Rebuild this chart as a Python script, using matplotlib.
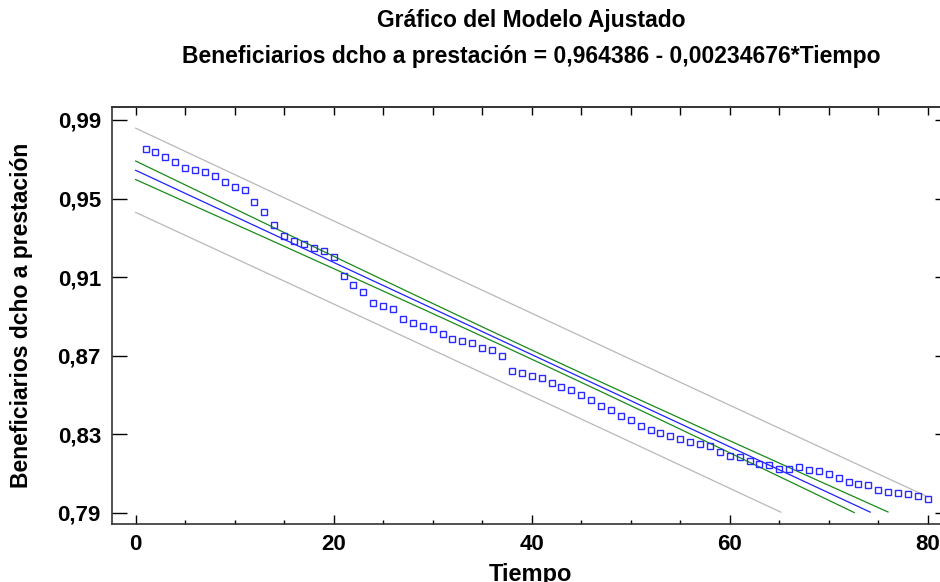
import numpy as np
import matplotlib.pyplot as plt

plt.rcParams['font.family'] = ['Liberation Sans', 'DejaVu Sans']

# Datos (Tiempo = 1..80)
tiempo = np.arange(1, 81)
beneficiarios = [
    0.9752, 0.9739, 0.9710, 0.9686, 0.9656, 0.9644, 0.9637, 0.9613, 0.9583, 0.9559,
    0.9545, 0.9482, 0.9433, 0.9365, 0.9311, 0.9282, 0.9270, 0.9247, 0.9235, 0.9202,
    0.9107, 0.9058, 0.9024, 0.8968, 0.8951, 0.8938, 0.8888, 0.8866, 0.8853, 0.8836,
    0.8812, 0.8786, 0.8775, 0.8765, 0.8739, 0.8727, 0.8697, 0.8624, 0.8613, 0.8598,
    0.8588, 0.8559, 0.8541, 0.8524, 0.8498, 0.8474, 0.8444, 0.8425, 0.8394, 0.8371,
    0.8340, 0.8322, 0.8305, 0.8293, 0.8274, 0.8262, 0.8250, 0.8239, 0.8211, 0.8191,
    0.8184, 0.8165, 0.8150, 0.8145, 0.8125, 0.8125, 0.8132, 0.8119, 0.8113, 0.8098,
    0.8077, 0.8058, 0.8048, 0.8040, 0.8016, 0.8004, 0.8001, 0.7994, 0.7986, 0.7969,
]

# Modelo ajustado (del titulo)
b0 = 0.964386
b1 = -0.00234676
t_95 = 1.99085  # t de Student, 78 g.l.

y = np.array(beneficiarios)
n = len(y)
resid = y - (b0 + b1 * tiempo)
s = np.sqrt(np.sum(resid**2) / (n - 2))
xm = tiempo.mean()
sxx = np.sum((tiempo - xm)**2)

xg = np.linspace(0, 80, 400)
yfit = b0 + b1 * xg
se_conf = s * np.sqrt(1 / n + (xg - xm)**2 / sxx)
se_pred = s * np.sqrt(1 + 1 / n + (xg - xm)**2 / sxx)

def corta(v):
    # las lineas se cortan por debajo de 0,79
    v = v.copy()
    v[v < 0.79] = np.nan
    return v

fig = plt.figure(figsize=(9.4, 5.82), dpi=100)
ax = fig.add_axes([112 / 940, 1 - 524 / 582, 830 / 940, 417 / 582])

ax.plot(xg, corta(yfit + t_95 * se_pred), color='#b8b8b8', lw=0.9)
ax.plot(xg, corta(yfit - t_95 * se_pred), color='#b8b8b8', lw=0.9)
ax.plot(xg, corta(yfit + t_95 * se_conf), color='#1a8a1a', lw=0.9)
ax.plot(xg, corta(yfit - t_95 * se_conf), color='#1a8a1a', lw=0.9)
ax.plot(xg, corta(yfit), color='#2020ff', lw=0.9)
ax.plot(tiempo, beneficiarios, 's', ms=4.4, mfc='none', mec='#2a2aff', mew=1.0)

ax.set_xlim(-2.39, 81.44)
ax.set_ylim(0.78424, 0.99662)
ax.set_xticks([0, 20, 40, 60, 80])
ax.set_xticks(np.arange(0, 81, 5), minor=True)
ax.set_yticks([0.79, 0.83, 0.87, 0.91, 0.95, 0.99])
ax.set_yticklabels(['0,79', '0,83', '0,87', '0,91', '0,95', '0,99'])

ax.tick_params(axis='x', which='major', direction='in', length=6.5, width=1,
               pad=7, labelsize=16)
ax.tick_params(axis='x', which='minor', direction='in', length=3, width=1)
ax.tick_params(axis='y', which='major', direction='in', length=11, width=1,
               pad=8, labelsize=16)
for lab in ax.get_xticklabels() + ax.get_yticklabels():
    lab.set_fontweight('bold')

top = ax.secondary_xaxis('top')
top.set_xticks(np.arange(0, 81, 5))
top.tick_params(direction='in', length=5.8, width=1, labeltop=False)
right = ax.secondary_yaxis('right')
right.set_yticks([0.79, 0.83, 0.87, 0.91, 0.95, 0.99])
right.tick_params(direction='in', length=5, width=1, labelright=False)
for sp in list(ax.spines.values()) + list(top.spines.values()) + list(right.spines.values()):
    sp.set_color('#333333')
    sp.set_linewidth(1.2)

fig.text(531 / 940, 1 - 20 / 582, 'Gráfico del Modelo Ajustado', ha='center',
         va='center', fontsize=16.5, fontweight='bold')
fig.text(531 / 940, 1 - 57 / 582,
         'Beneficiarios dcho a prestación = 0,964386 - 0,00234676*Tiempo',
         ha='center', va='center', fontsize=16.5, fontweight='bold')
fig.text(530 / 940, 1 - 574 / 582, 'Tiempo', ha='center', va='center',
         fontsize=17, fontweight='bold')
fig.text(22 / 940, 1 - 315 / 582, 'Beneficiarios dcho a prestación', ha='center',
         va='center', rotation=90, fontsize=16.5, fontweight='bold')

fig.savefig('out.png', dpi=100)
